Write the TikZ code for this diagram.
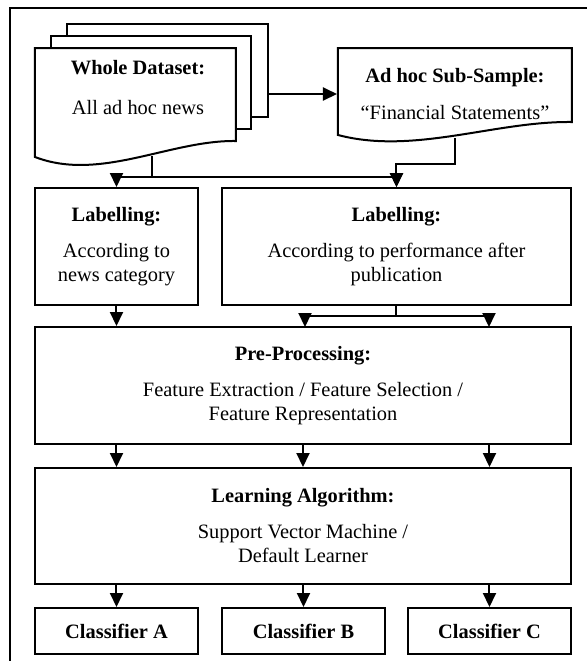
\documentclass[tikz,border=0pt]{standalone}
\usepackage{fontspec}
\setmainfont{Liberation Serif}
\usetikzlibrary{arrows.meta,positioning}

\begin{document}
\begin{tikzpicture}[x = 0.5pt, y = -0.5pt, line width = 1pt,
		box/.style = {draw, rectangle, align = center, inner sep = 0pt, font = \fontsize{10.2}{12}\selectfont},
		doctext/.style = {align = center, inner sep = 0pt, font = \fontsize{10.2}{12}\selectfont},
		page/.style = {draw, fill = white},
		>={Triangle[length = 7pt, width = 6.5pt]}]
				\useasboundingbox (0,0) rectangle (587,661);
				\draw[line width = 0.75pt] (587,8) -- (10,8) -- (10,661);
				% document stack
				\draw[page] (67,24) rectangle (268,117);
				\draw[page] (51,36) rectangle (251,129);
				\draw[page] (35,48) -- (236,48) -- (236,141) .. controls (170,140) and (100,182) .. (35,157) -- cycle;
				\draw[page] (338,48) -- (572,48) -- (572,122) .. controls (495,121) and (414,155) .. (338,135) -- cycle;
				\node[doctext] (whole) at (138,88) {\textbf{Whole Dataset:}\\[8pt] All ad hoc news};
				\node[doctext, minimum width = 117pt] (sub) at (455,94) {\textbf{Ad hoc Sub-Sample:}\\[6.5pt] “Financial Statements”};
				\coordinate (stack) at (268,94);
				\coordinate (wout) at (152,156);
				\coordinate (wsplit) at (152,177);
				\coordinate (sout) at (455,138);
				\coordinate (ssplit) at (455,164);
				% boxes
				\node[box, minimum width = 81.5pt, minimum height = 58.5pt] (lab1) at (116.5,246.5) {\textbf{Labelling:}\\[6pt] According to\\ news category};
				\node[box, minimum width = 174.5pt, minimum height = 58.5pt] (lab2) at (396.5,246.5) {\textbf{Labelling:}\\[6pt] According to performance after\\ publication};
				\node[box, minimum width = 268pt, minimum height = 58.5pt] (pre) at (303,385.5) {\textbf{Pre-Processing:}\\[6pt] Feature Extraction / Feature Selection /\\ Feature Representation};
				\node[box, minimum width = 268pt, minimum height = 58pt] (learn) at (303,526) {\textbf{Learning Algorithm:}\\[6pt] Support Vector Machine /\\ Default Learner};
				\node[box, minimum width = 81.5pt, minimum height = 23pt] (clsA) at (116.5,631) {\textbf{Classifier A}};
				\node[box, minimum width = 81.5pt, minimum height = 23pt] (clsB) at (303.5,631) {\textbf{Classifier B}};
				\node[box, minimum width = 81.5pt, minimum height = 23pt] (clsC) at (489.5,631) {\textbf{Classifier C}};
				\coordinate (lsplit) at (396.5,316);
				\coordinate (prein2) at (305,327);
				\coordinate (prein3) at (489,327);
				% connectors
				\draw[->] (stack) -- (sub.west);
				\draw[->] (wout) -- (wsplit) -| (lab1.north);
				\draw[->] (wsplit) -| (lab2.north);
				\draw[->] (sout) -- (ssplit) -| (lab2.north);
				\draw[->] (lab1.south) -- (lab1.south |- pre.north);
				\draw (lab2.south) -- (lsplit);
				\draw[->] (lsplit) -| (prein2);
				\draw[->] (lsplit) -| (prein3);
				\draw[->] (pre.south -| clsA.north) -- (learn.north -| clsA.north);
				\draw[->] (pre.south) -- (learn.north);
				\draw[->] (pre.south -| clsC.north) -- (learn.north -| clsC.north);
				\draw[->] (learn.south -| clsA.north) -- (clsA.north);
				\draw[->] (learn.south -| clsB.north) -- (clsB.north);
				\draw[->] (learn.south -| clsC.north) -- (clsC.north);
			\end{tikzpicture}
\end{document}
